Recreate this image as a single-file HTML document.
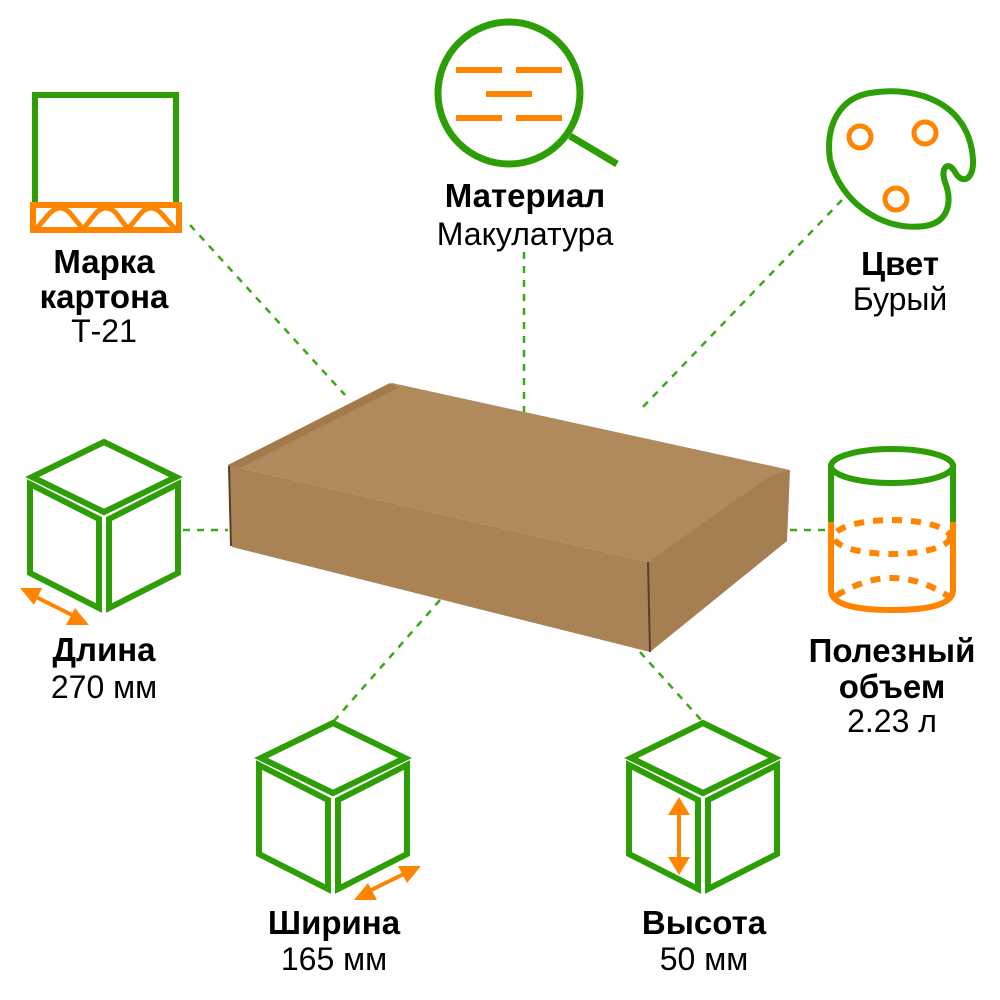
<!DOCTYPE html>
<html><head><meta charset="utf-8"><style>
html,body{margin:0;padding:0;background:#fff}
svg{display:block}
.t{font-family:"Liberation Sans",sans-serif;font-size:32px;fill:#000;text-anchor:middle}
.b{font-weight:bold;font-size:33px}
</style></head><body>
<svg width="1000" height="1000" viewBox="0 0 1000 1000" xmlns="http://www.w3.org/2000/svg">
<defs>
<g id="cube" fill="none" stroke="#2e9e06" stroke-width="6" stroke-linejoin="miter">
<polygon points="0,0 -72,35 0,70 72,35"/>
<polygon points="-74,42 -5,77 -5,166 -74,131"/>
<polygon points="5,77 74,42 74,131 5,166"/>
</g>
</defs>
<g stroke="#3aa81a" stroke-width="2.5" stroke-dasharray="7,7" fill="none">
<line x1="190" y1="225" x2="345" y2="395"/>
<line x1="524" y1="252" x2="524" y2="412"/>
<line x1="842" y1="200" x2="640" y2="410"/>
<line x1="183" y1="530" x2="228" y2="530"/>
<line x1="790" y1="530" x2="828" y2="530"/>
<line x1="440" y1="600" x2="333" y2="722"/>
<line x1="640" y1="652" x2="703" y2="722"/>
</g>
<polygon points="228,465 392,383 790,470 648,562" fill="#b08a5c"/>
<polygon points="228,465 390,383 398,388 240,468" fill="#a27a4c"/>
<polygon points="648,562 770,476 790,470 787,541 650,652" fill="#a57e52"/>
<polygon points="228,465 648,562 650,652 232,547" fill="#a98256"/>
<line x1="648" y1="562" x2="650" y2="652" stroke="#5a4026" stroke-width="2"/>
<line x1="229" y1="466" x2="231" y2="546" stroke="#5a4026" stroke-width="2"/>
<!-- marka -->
<path d="M35,205 V95 H176 V205" fill="none" stroke="#2e9e06" stroke-width="6"/>
<rect x="33" y="205" width="146" height="25" fill="none" stroke="#ff8400" stroke-width="6"/>
<path d="M36,229 L50,213 Q60,203 70,213 L83,229 L96,213 Q106,203 116,213 L128,229 L141,213 Q151,203 161,213 L175,229" fill="none" stroke="#ff8400" stroke-width="5"/>
<text class="t b" x="104" y="273">Марка</text>
<text class="t b" x="104" y="308">картона</text>
<text class="t" x="104" y="342">Т-21</text>
<!-- material -->
<circle cx="509" cy="93" r="71" fill="none" stroke="#2e9e06" stroke-width="7"/>
<line x1="570" y1="136" x2="617" y2="164" stroke="#2e9e06" stroke-width="7"/>
<g fill="#ff8400">
<rect x="456" y="67" width="46" height="6"/><rect x="516" y="67" width="46" height="6"/>
<rect x="486" y="91" width="46" height="6"/>
<rect x="456" y="115" width="46" height="6"/><rect x="516" y="115" width="46" height="6"/>
</g>
<text class="t b" x="525" y="207">Материал</text>
<text class="t" x="525" y="245">Макулатура</text>
<!-- palette -->
<path d="M870,93 C920,85 970,105 973,160 C974,180 962,185 955,172 C948,160 940,168 945,182 C952,200 950,222 925,226 C880,232 840,200 830,160 C825,125 840,98 870,93 Z" fill="none" stroke="#2e9e06" stroke-width="6"/>
<g fill="none" stroke="#ff8400" stroke-width="5">
<circle cx="860" cy="137" r="11"/><circle cx="925" cy="133" r="11"/><circle cx="896" cy="199" r="11"/>
</g>
<text class="t b" x="900" y="275">Цвет</text>
<text class="t" x="900" y="310">Бурый</text>
<!-- cylinder -->
<g fill="none" stroke-width="6">
<ellipse cx="892" cy="466" rx="61" ry="17" stroke="#2e9e06"/>
<path d="M831,466 V522 M953,466 V522" stroke="#2e9e06"/>
<path d="M831,522 V590 Q831,610 892,610 Q953,610 953,590 V522" stroke="#ff8400"/>
<g stroke="#ff8400" stroke-dasharray="10,9">
<ellipse cx="892" cy="537" rx="58" ry="17"/>
<path d="M836,596 Q892,560 948,596"/>
</g>
</g>
<text class="t b" x="892" y="662">Полезный</text>
<text class="t b" x="892" y="698">объем</text>
<text class="t" x="892" y="732">2.23 л</text>
<use href="#cube" x="104" y="442"/>
<use href="#cube" x="333" y="723"/>
<use href="#cube" x="703" y="723"/>
<g stroke="#ff8400" stroke-width="4" fill="#ff8400">
<line x1="32" y1="595" x2="78" y2="618"/>
<polygon points="20,588 42,588 34,605" stroke="none"/>
<polygon points="89,625 66,625 75,608" stroke="none"/>
<line x1="365" y1="893" x2="410" y2="871"/>
<polygon points="354,900 377,900 368,883" stroke="none"/>
<polygon points="421,866 398,866 407,883" stroke="none"/>
<line x1="679" y1="806" x2="679" y2="866"/>
<polygon points="679,797 668,815 690,815" stroke="none"/>
<polygon points="679,875 668,857 690,857" stroke="none"/>
</g>
<text class="t b" x="104" y="661">Длина</text>
<text class="t" x="104" y="698">270 мм</text>
<text class="t b" x="334" y="934">Ширина</text>
<text class="t" x="334" y="970">165 мм</text>
<text class="t b" x="704" y="934">Высота</text>
<text class="t" x="704" y="970">50 мм</text>
</svg>
</body></html>
